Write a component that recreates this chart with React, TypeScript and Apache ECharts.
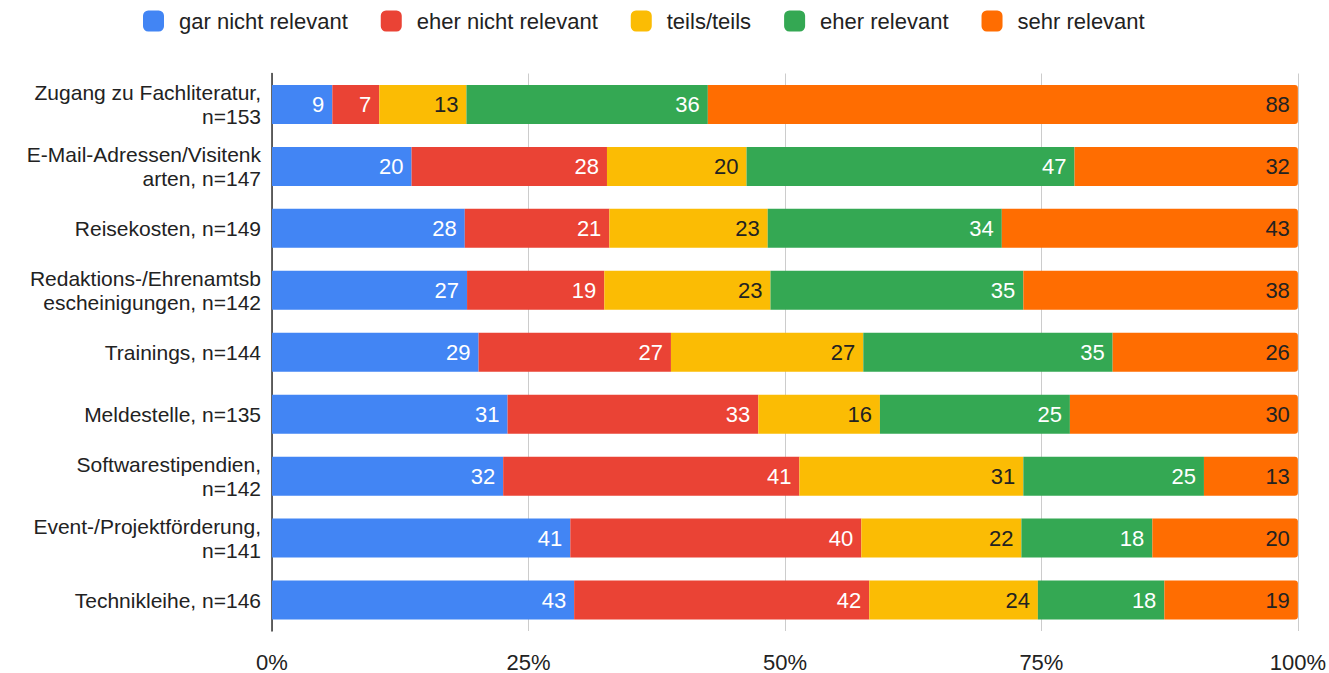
import React, { useEffect, useRef } from "react";
import * as echarts from "echarts";

const categories = [
  "Zugang zu Fachliteratur,\nn=153",
  "E-Mail-Adressen/Visitenk\narten, n=147",
  "Reisekosten, n=149",
  "Redaktions-/Ehrenamtsb\nescheinigungen, n=142",
  "Trainings, n=144",
  "Meldestelle, n=135",
  "Softwarestipendien,\nn=142",
  "Event-/Projektförderung,\nn=141",
  "Technikleihe, n=146",
];

const seriesNames = [
  "gar nicht relevant",
  "eher nicht relevant",
  "teils/teils",
  "eher relevant",
  "sehr relevant",
];

const garNicht = [9, 20, 28, 27, 29, 31, 32, 41, 43];
const eherNicht = [7, 28, 21, 19, 27, 33, 41, 40, 42];
const teils = [13, 20, 23, 23, 27, 16, 31, 22, 24];
const eherRel = [36, 47, 34, 35, 35, 25, 25, 18, 18];
const sehrRel = [88, 32, 43, 38, 26, 30, 13, 20, 19];

const xTicks = ["0%", "25%", "50%", "75%", "100%"];

const colors = ["#4285F4", "#EA4335", "#FBBC04", "#34A853", "#FF6D01"];
const labelColors = ["#ffffff", "#ffffff", "#222222", "#ffffff", "#222222"];

export default function App() {
  const ref = useRef<HTMLDivElement>(null);
  useEffect(() => {
    if (!ref.current) return;
    const chart = echarts.init(ref.current, undefined, { renderer: "svg" });
    const all = [garNicht, eherNicht, teils, eherRel, sehrRel];
    const totals = categories.map((_, i) => all.reduce((s, arr) => s + arr[i], 0));
    const font = "Liberation Sans";
    chart.setOption({
      animation: false,
      textStyle: { fontFamily: font },
      legend: {
        top: 5,
        left: 138,
        itemWidth: 21,
        itemHeight: 21,
        itemGap: 33,
        icon: "roundRect",
        textStyle: { fontSize: 22, color: "#222", fontFamily: font, padding: [0, 0, 0, 10] },
        data: seriesNames,
      },
      grid: { left: 272, right: 31, top: 73.5, bottom: 41.5, containLabel: false },
      xAxis: {
        type: "value",
        min: 0,
        max: 100,
        interval: 25,
        axisLine: { show: false },
        axisTick: { show: false },
        splitLine: { lineStyle: { color: "#cccccc", width: 1 } },
        axisLabel: {
          fontSize: 22,
          color: "#222",
          margin: 20,
          fontFamily: font,
          formatter: (v: number) => xTicks[Math.round(v / 25)],
        },
      },
      yAxis: {
        type: "category",
        inverse: true,
        data: categories,
        axisLine: { show: true, lineStyle: { color: "#333", width: 1.5 } },
        axisTick: { show: false },
        axisLabel: {
          fontSize: 21,
          color: "#222",
          margin: 11,
          lineHeight: 24,
          fontFamily: font,
          align: "right",
        },
      },
      series: all.map((arr, si) => ({
        name: seriesNames[si],
        type: "bar",
        stack: "total",
        barWidth: "63%",
        itemStyle: {
          color: colors[si],
          borderRadius: si === 4 ? [0, 3, 3, 0] : 0,
        },
        label: {
          show: true,
          position: "insideRight",
          distance: 8,
          fontSize: 22,
          fontFamily: font,
          color: labelColors[si],
          formatter: (p: any) => String(arr[p.dataIndex]),
        },
        data: arr.map((v, i) => (v / totals[i]) * 100),
      })),
    });
    return () => chart.dispose();
  }, []);
  return <div ref={ref} style={{ width: 1329, height: 673, position: "absolute", left: 0, top: 0 }} />;
}
